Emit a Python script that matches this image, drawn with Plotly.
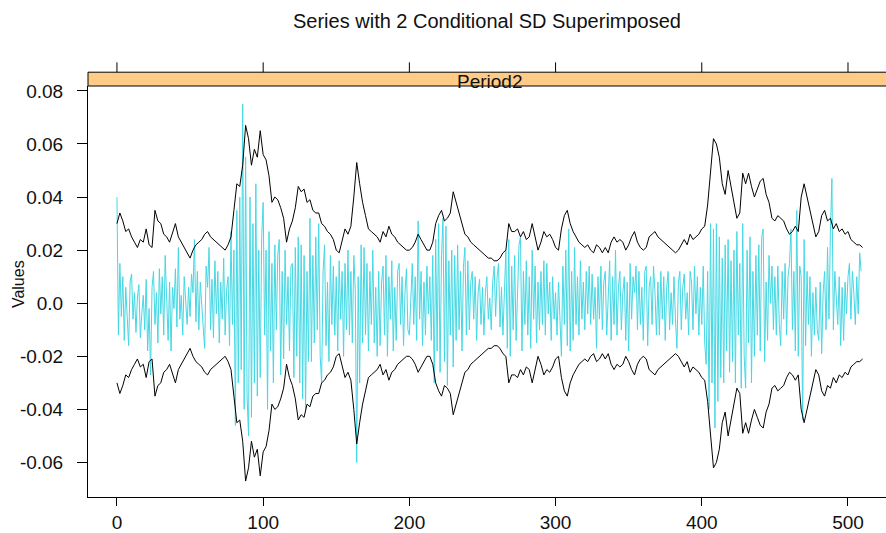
import plotly.graph_objects as go

# ---------------- data ----------------
title_text = "Series with 2 Conditional SD Superimposed"
strip_label = "Period2"
y_title = "Values"

x_tick_vals = [0, 100, 200, 300, 400, 500]
x_tick_text = ["0", "100", "200", "300", "400", "500"]
y_tick_vals = [0.08, 0.06, 0.04, 0.02, 0.0, -0.02, -0.04, -0.06]
y_tick_text = ["0.08", "0.06", "0.04", "0.02", "0.0", "-0.02", "-0.04", "-0.06"]

# observed series (index 0..509)
series_values = [
    0.040, -0.012, 0.015, -0.005, 0.010, -0.014, 0.006, -0.003, -0.016, 0.008,
    0.011, -0.006, 0.004, -0.011, 0.002, 0.007, -0.013, -0.004, 0.003, -0.010,
    0.009, -0.018, -0.002, -0.027, 0.006, 0.012, -0.008, 0.004, -0.015, 0.013,
    -0.004, 0.010, -0.012, 0.018, 0.005, -0.014, 0.008, -0.018, 0.006, -0.002,
    0.013, -0.009, 0.021, -0.006, 0.003, -0.012, 0.010, 0.002, -0.008, 0.006,
    -0.005, 0.011, 0.004, 0.024, -0.007, 0.012, -0.010, 0.008, 0.001, -0.009,
    -0.017, 0.014, 0.006, 0.021, -0.010, 0.009, -0.013, 0.016, -0.004, 0.012,
    -0.015, 0.008, -0.006, 0.017, -0.012, 0.005, 0.010, -0.016, 0.027, -0.008,
    0.020, -0.046, 0.035, -0.030, 0.040, -0.025, 0.075, -0.040, 0.055, -0.035,
    -0.050, 0.040, -0.043, 0.030, -0.030, 0.045, -0.035, 0.020, -0.028, 0.025,
    0.038, -0.012, 0.020, -0.040, 0.027, -0.018, 0.015, -0.030, 0.022, -0.010,
    0.018, 0.024, -0.027, 0.012, -0.021, 0.020, -0.008, 0.010, -0.018, 0.014,
    0.015, -0.028, 0.021, -0.020, 0.025, -0.030, 0.022, -0.036, 0.018, -0.040,
    0.012, -0.022, 0.032, -0.022, 0.018, -0.015, 0.025, -0.010, 0.030, -0.020,
    -0.030, 0.012, 0.022, -0.016, 0.008, -0.022, 0.018, -0.008, 0.014, -0.012,
    0.010, -0.018, 0.016, -0.006, 0.012, -0.020, 0.015, -0.010, 0.020, -0.012,
    0.012, -0.015, 0.018, 0.005, -0.060, 0.010, -0.030, 0.022, -0.015, 0.021,
    -0.012, 0.015, -0.018, 0.012, -0.008, 0.020, -0.015, 0.006, -0.020, 0.012,
    -0.016, 0.008, 0.014, -0.012, 0.018, -0.020, 0.010, -0.006, 0.016, -0.018,
    0.006, -0.014, 0.012, 0.015, -0.008, 0.010, -0.016, 0.004, 0.013, -0.010,
    -0.012, 0.006, 0.015, -0.008, 0.010, -0.014, 0.031, -0.006, 0.012, -0.016,
    0.008, -0.012, 0.014, -0.004, 0.010, -0.014, 0.018, -0.030, 0.024, -0.018,
    0.030, -0.026, 0.018, 0.032, -0.022, 0.029, -0.031, 0.016, -0.012, 0.020,
    -0.024, 0.018, -0.014, 0.022, -0.010, 0.012, -0.018, 0.014, 0.021, -0.012,
    0.016, -0.010, 0.008, 0.012, -0.006, 0.010, -0.014, 0.004, 0.009, -0.008,
    0.006, -0.012, 0.004, 0.010, -0.006, 0.002, -0.010, 0.008, 0.014, -0.005,
    0.010, 0.015, -0.009, 0.006, -0.012, 0.004, 0.020, -0.017, 0.024, -0.020,
    0.014, -0.010, 0.018, -0.014, 0.008, 0.022, 0.025, -0.018, 0.012, -0.008,
    0.016, -0.012, 0.010, -0.017, 0.020, -0.006, 0.014, -0.015, 0.008, -0.010,
    0.012, -0.008, 0.016, -0.012, 0.015, -0.004, 0.008, -0.014, 0.010, -0.006,
    0.004, -0.012, 0.008, -0.010, -0.020, 0.014, -0.008, 0.020, -0.016, 0.028,
    -0.018, 0.012, -0.014, 0.021, -0.008, 0.010, -0.012, 0.016, -0.006, 0.008,
    -0.010, 0.012, -0.004, 0.014, -0.008, 0.011, -0.006, 0.006, -0.017, 0.010,
    -0.006, 0.014, -0.010, 0.008, 0.012, -0.012, 0.004, 0.016, -0.014, 0.010,
    -0.008, 0.020, -0.012, 0.006, 0.012, -0.010, 0.004, 0.010, -0.014, 0.008,
    -0.018, 0.015, -0.006, 0.010, 0.004, 0.014, -0.010, 0.012, -0.008, 0.006,
    -0.014, 0.012, 0.014, -0.016, 0.006, 0.010, -0.008, 0.014, 0.004, -0.012,
    0.008, -0.012, 0.012, -0.006, 0.010, -0.014, 0.006, 0.012, -0.010, 0.004,
    -0.008, 0.010, -0.006, -0.017, 0.008, 0.012, -0.010, 0.006, 0.011, -0.006,
    0.004, -0.012, 0.012, 0.008, -0.010, 0.014, -0.004, 0.010, -0.012, 0.006,
    -0.008, 0.014, -0.015, -0.023, 0.012, -0.040, 0.030, -0.030, 0.028, -0.047,
    0.030, -0.037, 0.025, -0.028, 0.017, -0.030, 0.022, -0.018, 0.024, -0.026,
    0.016, -0.022, 0.020, -0.030, 0.027, -0.012, 0.015, -0.032, 0.030, -0.020,
    -0.032, 0.020, -0.015, 0.025, -0.030, 0.012, -0.020, 0.018, -0.012, 0.022,
    -0.018, 0.025, 0.028, -0.022, 0.008, -0.014, 0.018, 0.000, 0.014, -0.010,
    0.010, -0.012, 0.014, -0.008, -0.016, 0.012, -0.006, 0.015, -0.012, 0.010,
    0.015, 0.028, -0.010, 0.012, -0.018, 0.035, -0.020, 0.014, 0.010, -0.044,
    0.024, -0.016, 0.012, -0.008, 0.010, -0.020, 0.004, -0.012, 0.006, -0.010,
    -0.014, 0.008, -0.019, 0.004, 0.012, -0.010, 0.021, -0.006, 0.028, 0.047,
    -0.010, 0.012, 0.002, -0.008, 0.010, -0.016, 0.006, -0.014, 0.008, -0.004,
    0.010, 0.015, -0.006, 0.012, 0.004, -0.008, 0.010, -0.004, 0.019, 0.012,
]

# upper band (mean + 2 conditional SD), read every 2nd index: 0, 2, ..., 510
upper_band = [
    0.030, 0.034, 0.031, 0.027, 0.028, 0.025, 0.023, 0.021, 0.024, 0.023, 0.028, 0.022, 0.021, 0.035, 0.031, 0.030,
    0.026, 0.025, 0.023, 0.027, 0.030, 0.025, 0.023, 0.021, 0.019, 0.017, 0.020, 0.022, 0.023, 0.024, 0.026, 0.027,
    0.025, 0.024, 0.023, 0.022, 0.021, 0.020, 0.022, 0.025, 0.035, 0.045, 0.044, 0.052, 0.067, 0.062, 0.052, 0.058,
    0.055, 0.065, 0.056, 0.054, 0.048, 0.038, 0.040, 0.039, 0.036, 0.032, 0.023, 0.028, 0.031, 0.036, 0.044, 0.042,
    0.043, 0.038, 0.039, 0.035, 0.034, 0.034, 0.030, 0.029, 0.027, 0.026, 0.024, 0.020, 0.019, 0.024, 0.028, 0.026,
    0.029, 0.040, 0.053, 0.045, 0.038, 0.033, 0.028, 0.027, 0.026, 0.025, 0.023, 0.027, 0.025, 0.029, 0.026, 0.025,
    0.023, 0.022, 0.021, 0.020, 0.020, 0.021, 0.023, 0.026, 0.024, 0.022, 0.020, 0.020, 0.023, 0.030, 0.033, 0.035,
    0.031, 0.032, 0.034, 0.042, 0.038, 0.033, 0.030, 0.026, 0.025, 0.023, 0.022, 0.021, 0.020, 0.019, 0.018, 0.017,
    0.017, 0.016, 0.016, 0.017, 0.019, 0.020, 0.030, 0.027, 0.027, 0.028, 0.025, 0.027, 0.024, 0.025, 0.030, 0.025,
    0.020, 0.023, 0.027, 0.025, 0.026, 0.024, 0.021, 0.020, 0.028, 0.033, 0.035, 0.030, 0.027, 0.025, 0.023, 0.022,
    0.021, 0.022, 0.020, 0.019, 0.022, 0.021, 0.019, 0.021, 0.019, 0.023, 0.025, 0.023, 0.024, 0.023, 0.020, 0.022,
    0.025, 0.027, 0.023, 0.021, 0.020, 0.021, 0.025, 0.026, 0.027, 0.025, 0.024, 0.023, 0.022, 0.021, 0.020, 0.019,
    0.020, 0.022, 0.024, 0.022, 0.026, 0.024, 0.025, 0.026, 0.028, 0.029, 0.037, 0.050, 0.062, 0.060, 0.055, 0.045,
    0.041, 0.050, 0.044, 0.038, 0.032, 0.034, 0.049, 0.045, 0.049, 0.044, 0.040, 0.043, 0.046, 0.047, 0.041, 0.038,
    0.032, 0.031, 0.033, 0.032, 0.031, 0.028, 0.026, 0.027, 0.029, 0.027, 0.040, 0.045, 0.040, 0.035, 0.030, 0.025,
    0.027, 0.033, 0.035, 0.031, 0.032, 0.028, 0.030, 0.027, 0.028, 0.026, 0.027, 0.024, 0.023, 0.022, 0.022, 0.021,
]

# ---------------- figure ----------------
series_x = list(range(len(series_values)))
band_x = [2 * i for i in range(len(upper_band))]
lower_band = [-v for v in upper_band]

FONT = "Liberation Sans, Arial, sans-serif"
CYAN = "#45D8E4"
TXT = "#111111"

fig = go.Figure()
fig.add_trace(go.Scatter(x=series_x, y=series_values, mode="lines",
                         line=dict(color=CYAN, width=1), hoverinfo="skip"))
fig.add_trace(go.Scatter(x=band_x, y=upper_band, mode="lines",
                         line=dict(color="black", width=1), hoverinfo="skip"))
fig.add_trace(go.Scatter(x=band_x, y=lower_band, mode="lines",
                         line=dict(color="black", width=1), hoverinfo="skip"))

W, H = 886, 533
ml, mr, mt, mb = 88, 0, 86, 30
plot_h = H - mt - mb
strip_h = 14 / plot_h
tick_h = 10 / plot_h

shapes = [dict(type="rect", xref="paper", yref="paper", x0=0, x1=1.02,
               y0=1, y1=1 + strip_h, fillcolor="#FFCC88",
               line=dict(color="black", width=1), layer="above")]
for tv in x_tick_vals:
    shapes.append(dict(type="line", xref="x", yref="paper", x0=tv, x1=tv,
                       y0=1 + strip_h, y1=1 + strip_h + tick_h,
                       line=dict(color="black", width=1)))

fig.update_layout(
    width=W, height=H,
    margin=dict(l=ml, r=mr, t=mt, b=mb),
    paper_bgcolor="white", plot_bgcolor="white",
    showlegend=False,
    font=dict(family=FONT, color="black", size=18),
    title=dict(text=title_text, x=487 / W, xanchor="center",
               y=1 - 21 / H, yanchor="middle", yref="container",
               font=dict(family=FONT, size=20, color=TXT)),
    xaxis=dict(range=[-19.8, 526], tickvals=x_tick_vals, ticktext=x_tick_text,
               ticks="outside", ticklen=8, tickcolor="black", tickwidth=1,
               showline=True, linecolor="black", linewidth=1, mirror=False,
               showgrid=False, zeroline=False,
               tickfont=dict(family=FONT, size=19, color=TXT)),
    yaxis=dict(range=[-0.0730, 0.08184], tickvals=y_tick_vals, ticktext=y_tick_text,
               ticks="outside", ticklen=10, tickcolor="black", tickwidth=1,
               ticklabelstandoff=10,
               showline=True, linecolor="black", linewidth=1, mirror=False,
               showgrid=False, zeroline=False,
               tickfont=dict(family=FONT, size=19, color=TXT)),
    shapes=shapes,
    annotations=[
        dict(text=strip_label, xref="paper", yref="paper", x=(490 - ml) / (W - ml),
             y=1 + strip_h / 2 - 2 / plot_h, xanchor="center", yanchor="middle",
             showarrow=False, font=dict(family=FONT, size=19, color=TXT)),
        dict(text=y_title, xref="paper", yref="paper", x=(18 - ml) / (W - ml),
             y=(503 - 287) / plot_h, xanchor="center", yanchor="middle",
             textangle=-90, showarrow=False,
             font=dict(family=FONT, size=16, color=TXT)),
    ],
)

fig.write_html("out.html")
